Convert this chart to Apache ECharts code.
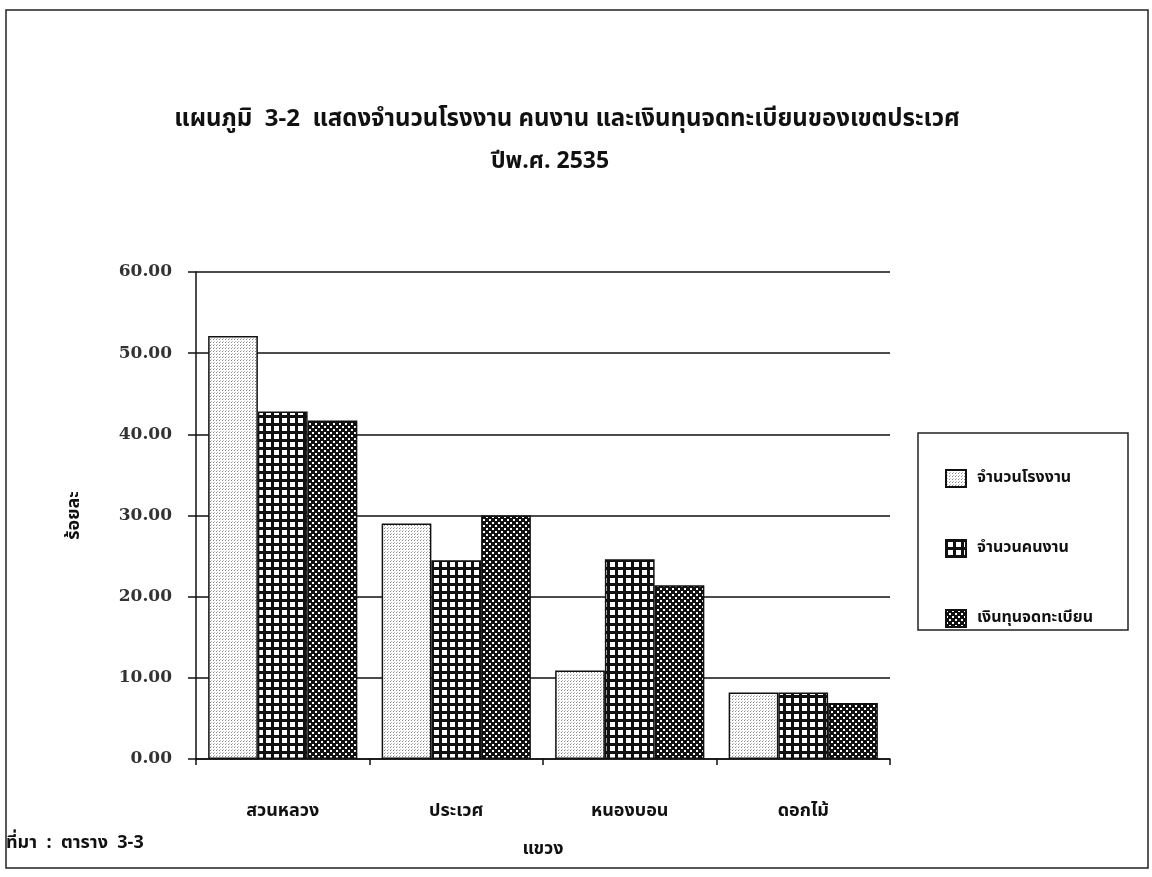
<!DOCTYPE html>
<html>
<head>
<meta charset="utf-8">
<script src="https://cdn.jsdelivr.net/npm/echarts@6/dist/echarts.min.js"></script>
<style>
html,body{margin:0;padding:0;background:#fff;}
#chart{width:1152px;height:877px;}
</style>
</head>
<body>
<div id="chart"></div>
<script>
const categories = ['สวนหลวง', 'ประเวศ', 'หนองบอน', 'ดอกไม้'];
const seriesNames = ['จำนวนโรงงาน', 'จำนวนคนงาน', 'เงินทุนจดทะเบียน'];
const factories = [52.1, 29.0, 10.9, 8.2];
const workers = [42.8, 24.5, 24.6, 8.2];
const capital = [41.7, 30.0, 21.4, 6.9];
const yTicks = [0, 10, 20, 30, 40, 50, 60];

const TH = '"Noto Sans Thai","Noto Serif Thai","Garuda","Loma","Norasi","Kinnari","Tlwg Typo",serif';
const NUM = '"DejaVu Serif","Liberation Serif",serif';

function makePattern(kind) {
  const c = document.createElement('canvas');
  const ctx = c.getContext('2d');
  if (kind === 0) {
    c.width = 3; c.height = 3;
    ctx.fillStyle = '#ffffff'; ctx.fillRect(0, 0, 3, 3);
    ctx.fillStyle = '#8a8a8a'; ctx.fillRect(0, 0, 1, 1);
    ctx.fillStyle = '#bdbdbd'; ctx.fillRect(1, 2, 1, 1);
  } else if (kind === 1) {
    c.width = 8; c.height = 8;
    ctx.fillStyle = '#111'; ctx.fillRect(0, 0, 8, 8);
    ctx.fillStyle = '#fff'; ctx.fillRect(2, 2, 5, 5);
  } else {
    c.width = 6; c.height = 6;
    ctx.fillStyle = '#111'; ctx.fillRect(0, 0, 6, 6);
    ctx.fillStyle = '#fff';
    ctx.fillRect(0, 0, 2, 2);
    ctx.fillRect(3, 3, 2, 2);
  }
  return { image: c, repeat: 'repeat' };
}

const seriesData = [factories, workers, capital];
const chart = echarts.init(document.getElementById('chart'));
const option = {
  backgroundColor: '#fff',
  animation: false,
  title: [
    { text: 'แผนภูมิ  3-2  แสดงจำนวนโรงงาน คนงาน และเงินทุนจดทะเบียนของเขตประเวศ', left: 562, top: 104, textAlign: 'center',
      textStyle: { fontFamily: TH, fontSize: 24, fontWeight: 'bold', color: '#111' } },
    { text: 'ปีพ.ศ. 2535', left: 545, top: 147, textAlign: 'center',
      textStyle: { fontFamily: TH, fontSize: 23, fontWeight: 'bold', color: '#111' } }
  ],
  legend: {
    orient: 'vertical',
    left: 940, top: 464,
    icon: 'rect',
    itemWidth: 20, itemHeight: 17, itemGap: 51,
    data: seriesNames,
    textStyle: { fontFamily: TH, fontSize: 16, fontWeight: 'bold', color: '#111', padding: [0, 0, 0, 6] }
  },
  grid: { left: 196, right: 262, top: 272, bottom: 118 },
  xAxis: {
    type: 'category', data: categories,
    name: 'แขวง', nameLocation: 'middle', nameGap: 82,
    nameTextStyle: { fontFamily: TH, fontSize: 18, fontWeight: 'bold', color: '#111' },
    axisLine: { lineStyle: { color: '#111', width: 1.5 } },
    axisTick: { show: true, length: 6, inside: false, lineStyle: { color: '#111', width: 1.5 } },
    axisLabel: { margin: 44, fontFamily: TH, fontSize: 18, fontWeight: 'bold', color: '#111' }
  },
  yAxis: {
    type: 'value', min: 0, max: 60, interval: 10,
    name: 'ร้อยละ', nameLocation: 'middle', nameGap: 112, nameRotate: 90,
    nameTextStyle: { fontFamily: TH, fontSize: 18, fontWeight: 'bold', color: '#111' },
    axisLine: { show: true, lineStyle: { color: '#111', width: 1.5 } },
    axisTick: { show: true, length: 8, lineStyle: { color: '#111', width: 1.5 } },
    splitLine: { lineStyle: { color: '#111', width: 1.5 } },
    axisLabel: { margin: 24, fontFamily: NUM, fontSize: 17, fontWeight: 'bold', color: '#333',
      formatter: v => yTicks.includes(v) ? v.toFixed(2) : '' }
  },
  series: seriesNames.map((n, i) => ({
    name: n, type: 'bar', data: seriesData[i],
    barGap: '0%', barCategoryGap: '14%',
    itemStyle: { color: makePattern(i), borderColor: '#111', borderWidth: 1.5 }
  })),
  graphic: [
    { type: 'rect', shape: { x: 6, y: 10, width: 1142, height: 858 }, style: { fill: 'none', stroke: '#222', lineWidth: 1.5 }, z: -1 },
    { type: 'rect', shape: { x: 918, y: 433, width: 210, height: 197 }, style: { fill: 'none', stroke: '#222', lineWidth: 1.5 }, z: -1 },
    { type: 'text', left: 6, top: 835, style: { text: 'ที่มา  :  ตาราง  3-3', fontFamily: TH, fontSize: 18, fontWeight: 'bold', fill: '#111' } }
  ]
};
chart.setOption(option);
</script>
</body>
</html>
